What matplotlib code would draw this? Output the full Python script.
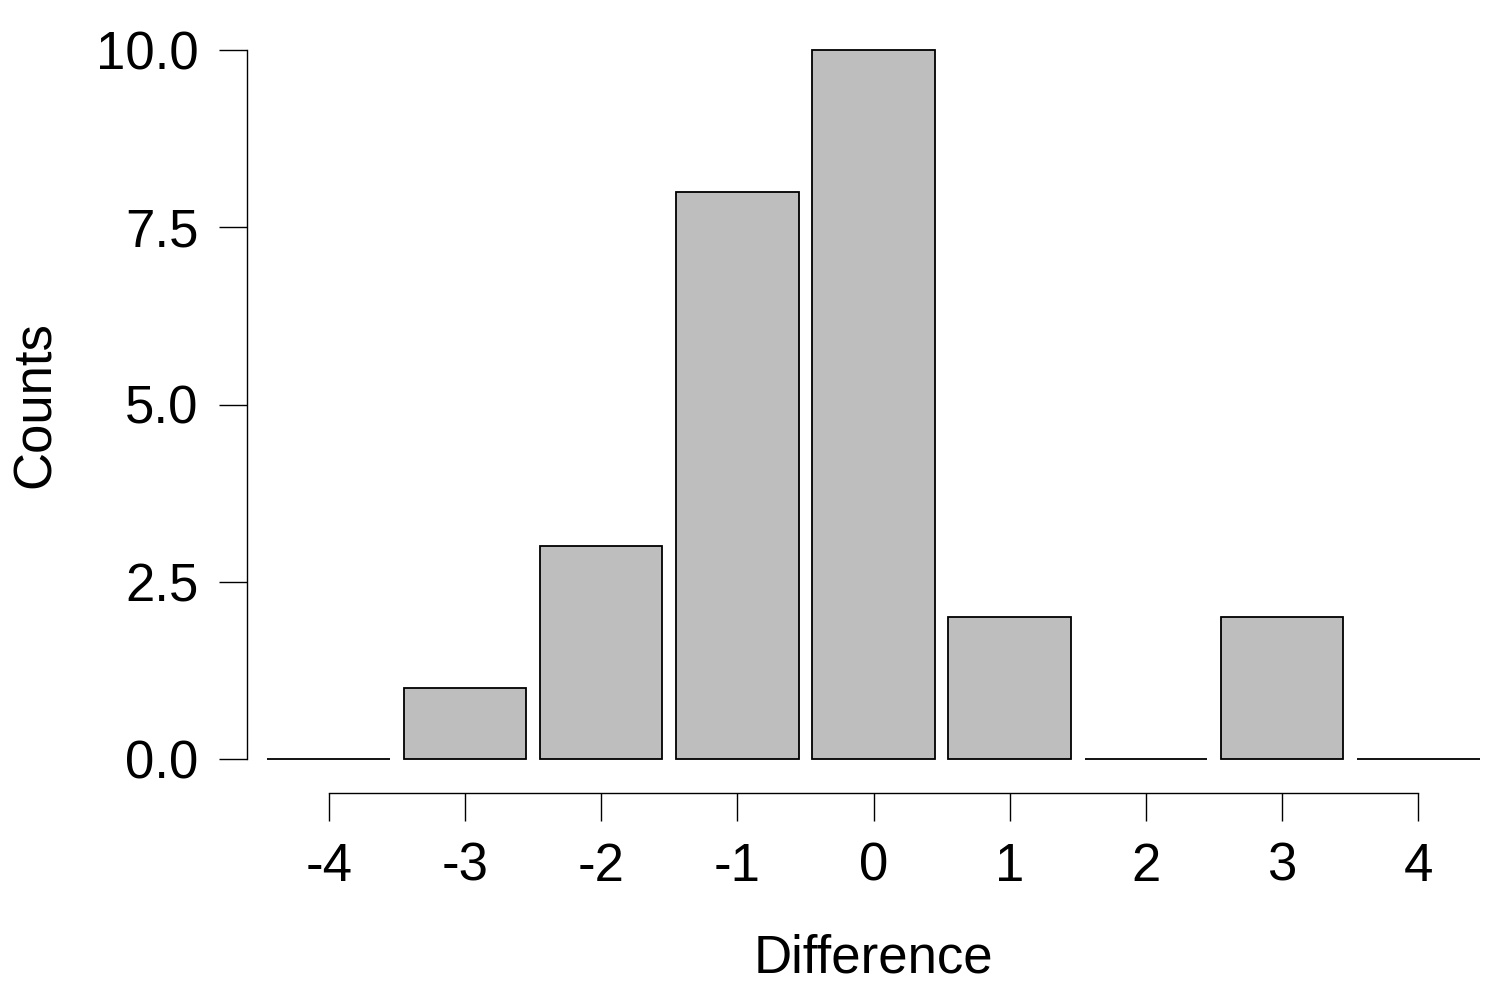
import matplotlib.pyplot as plt

# valores
differences = [-4, -3, -2, -1, 0, 1, 2, 3, 4]
counts = [0, 1, 3, 8, 10, 2, 0, 2, 0]
xtick_labels = ['-4', '-3', '-2', '-1', '0', '1', '2', '3', '4']
ytick_values = [0.0, 2.5, 5.0, 7.5, 10.0]

plt.rcParams['font.family'] = ['Liberation Sans', 'DejaVu Sans']

fig = plt.figure(figsize=(15, 10), dpi=100)
ax = fig.add_axes([0.1647, 0.241, 0.8353, 0.709])

ax.bar(differences, counts, width=0.9, color='#bebebe', edgecolor='black',
       linewidth=1.3, clip_on=False)

ax.set_xlim(-4.6, 4.6)
ax.set_ylim(0, 10)

# eixos no estilo JASP/R: eixo x deslocado para baixo
ax.spines['top'].set_visible(False)
ax.spines['right'].set_visible(False)
ax.spines['bottom'].set_position(('outward', 24.5))
ax.spines['bottom'].set_bounds(-4, 4)
ax.spines['left'].set_bounds(0, 10)
for s in ('bottom', 'left'):
    ax.spines[s].set_linewidth(1.0)

ax.set_xticks(differences)
ax.set_xticklabels(xtick_labels)
ax.set_yticks(ytick_values)
ax.set_yticklabels([f'{v:.1f}' for v in ytick_values])
ax.tick_params(axis='both', labelsize=38, length=20, width=1.0, direction='out')
ax.tick_params(axis='x', pad=15)
ax.tick_params(axis='y', pad=15)

ax.set_xlabel('Difference', fontsize=38, labelpad=30)
ax.set_ylabel('Counts', fontsize=38, labelpad=25)

fig.savefig('out.png', dpi=100)
